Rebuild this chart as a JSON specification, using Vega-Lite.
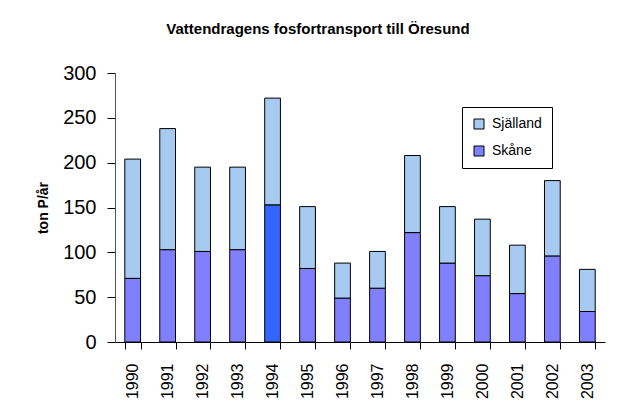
{
  "$schema": "https://vega.github.io/schema/vega-lite/v6.json",
  "autosize": {"type": "none"},
  "padding": {"left": 115, "top": 73, "right": 15, "bottom": 63},
  "width": 490,
  "height": 269,
  "background": "white",
  "title": {
    "text": "Vattendragens fosfortransport till Öresund",
    "font": "Liberation Sans",
    "fontSize": 15,
    "fontWeight": "bold",
    "color": "#000",
    "anchor": "middle",
    "dx": -42,
    "offset": 26
  },
  "data": {
    "values": [
      {"year": "1990", "series": "Skåne", "value": 71},
      {"year": "1990", "series": "Själland", "value": 133},
      {"year": "1991", "series": "Skåne", "value": 103},
      {"year": "1991", "series": "Själland", "value": 135},
      {"year": "1992", "series": "Skåne", "value": 101},
      {"year": "1992", "series": "Själland", "value": 94},
      {"year": "1993", "series": "Skåne", "value": 103},
      {"year": "1993", "series": "Själland", "value": 92},
      {"year": "1994", "series": "Skåne", "value": 153},
      {"year": "1994", "series": "Själland", "value": 119},
      {"year": "1995", "series": "Skåne", "value": 82},
      {"year": "1995", "series": "Själland", "value": 69},
      {"year": "1996", "series": "Skåne", "value": 49},
      {"year": "1996", "series": "Själland", "value": 39},
      {"year": "1997", "series": "Skåne", "value": 60},
      {"year": "1997", "series": "Själland", "value": 41},
      {"year": "1998", "series": "Skåne", "value": 122},
      {"year": "1998", "series": "Själland", "value": 86},
      {"year": "1999", "series": "Skåne", "value": 88},
      {"year": "1999", "series": "Själland", "value": 63},
      {"year": "2000", "series": "Skåne", "value": 74},
      {"year": "2000", "series": "Själland", "value": 63},
      {"year": "2001", "series": "Skåne", "value": 54},
      {"year": "2001", "series": "Själland", "value": 54},
      {"year": "2002", "series": "Skåne", "value": 96},
      {"year": "2002", "series": "Själland", "value": 84},
      {"year": "2003", "series": "Skåne", "value": 34},
      {"year": "2003", "series": "Själland", "value": 47}
    ]
  },
  "mark": {"type": "bar", "stroke": "#000", "strokeWidth": 1},
  "encoding": {
    "x": {
      "field": "year",
      "type": "ordinal",
      "scale": {"paddingInner": 0.55, "paddingOuter": 0.28},
      "axis": {
        "title": null,
        "labelAngle": 270,
        "labelFont": "Liberation Sans",
        "labelFontSize": 16,
        "labelColor": "#000",
        "labelPadding": 14,
        "tickBand": "extent",
        "tickSize": 7,
        "tickColor": "#000",
        "domainColor": "#000",
        "labelBaseline": "middle",
        "labelAlign": "right"
      }
    },
    "y": {
      "field": "value",
      "type": "quantitative",
      "aggregate": "sum",
      "stack": "zero",
      "scale": {"domain": [0, 300]},
      "axis": {
        "title": "ton P/år",
        "titleFont": "Liberation Sans",
        "titleFontSize": 14,
        "titleFontWeight": "bold",
        "titleColor": "#000",
        "titlePadding": 12,
        "values": [0, 50, 100, 150, 200, 250, 300],
        "labelFont": "Liberation Sans",
        "labelFontSize": 20,
        "labelColor": "#000",
        "labelPadding": 11,
        "tickSize": 8,
        "tickColor": "#000",
        "domainColor": "#555",
        "grid": false
      }
    },
    "color": {
      "condition": {"test": "datum.year == '1994' && datum.series == 'Skåne'", "value": "#3366FF"},
      "field": "series",
      "type": "nominal",
      "scale": {"domain": ["Själland", "Skåne"], "range": ["#A6CAF0", "#8080FF"]},
      "legend": {
        "title": null,
        "orient": "none",
        "legendX": 347,
        "legendY": 34,
        "symbolType": "square",
        "symbolSize": 100,
        "symbolStrokeColor": "#000",
        "symbolStrokeWidth": 1,
        "labelFont": "Liberation Sans",
        "labelFontSize": 14,
        "labelColor": "#000",
        "labelOffset": 6,
        "rowPadding": 13,
        "padding": 10,
        "strokeColor": "#000",
        "fillColor": "white"
      }
    },
    "order": {"field": "series", "sort": "descending"}
  },
  "config": {"view": {"stroke": null}}
}
